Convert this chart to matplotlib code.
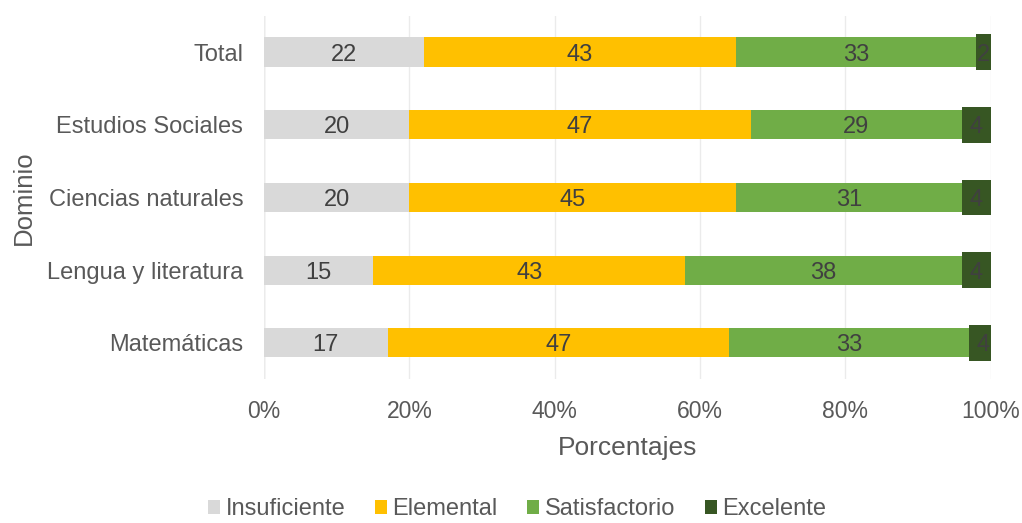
import matplotlib
matplotlib.use("Agg")
import matplotlib.pyplot as plt
from matplotlib.ticker import PercentFormatter

plt.rcParams['font.family'] = ['Liberation Sans', 'DejaVu Sans']

categories = ["Matemáticas", "Lengua y literatura", "Ciencias naturales",
              "Estudios Sociales", "Total"]
insuficiente = [17, 15, 20, 20, 22]
elemental = [47, 43, 45, 47, 43]
satisfactorio = [33, 38, 31, 29, 33]
excelente = [4, 4, 4, 4, 2]

series = [
    ("Insuficiente", insuficiente, "#D9D9D9"),
    ("Elemental", elemental, "#FFC000"),
    ("Satisfactorio", satisfactorio, "#70AD47"),
    ("Excelente", excelente, "#375623"),
]

fig = plt.figure(figsize=(10.22, 5.23), dpi=100)
ax = fig.add_axes([264 / 1022, 0.275, (990.7 - 264) / 1022, 0.695])

y = list(range(len(categories)))
left = [0] * len(categories)
for name, vals, color in series:
    # the last series sits on its own, slightly thicker bars
    h = 0.49 if name == "Excelente" else 0.40
    bars = ax.barh(y, vals, left=left, height=h, color=color,
                   linewidth=0, label=name, zorder=3)
    for bar, v in zip(bars, vals):
        ax.text(bar.get_x() + bar.get_width() / 2,
                bar.get_y() + bar.get_height() / 2, f"{v}",
                ha="center", va="center_baseline", fontsize=17,
                color="#404040", zorder=4)
    left = [l + v for l, v in zip(left, vals)]

ax.set_xlim(0, 100)
ax.set_ylim(-0.5, len(categories) - 0.5)
ax.set_xticks(range(0, 101, 20))
ax.xaxis.set_major_formatter(PercentFormatter(decimals=0))
ax.set_yticks(y)
ax.set_yticklabels(categories, fontsize=17)
ax.tick_params(axis="both", length=0, labelcolor="#595959")
ax.tick_params(axis="x", labelsize=16.5, pad=15)
ax.tick_params(axis="y", pad=15)
ax.grid(axis="x", color="#EBEBEB", linewidth=1, zorder=0)
for s in ax.spines.values():
    s.set_visible(False)
ax.axvline(0, color="#D9D9D9", linewidth=1, zorder=1)

ax.set_xlabel("Porcentajes", fontsize=19, color="#595959", labelpad=9)
ax.set_ylabel("Dominio", fontsize=18.5, color="#595959", labelpad=8)

handles, labels = ax.get_legend_handles_labels()
leg = fig.legend(handles, labels, loc="center", bbox_to_anchor=(0.506, 0.026),
                 ncol=4, frameon=False, fontsize=17, handlelength=0.5,
                 handleheight=0.5, handletextpad=0.25, columnspacing=1.25,
                 borderaxespad=0)
for t in leg.get_texts():
    t.set_color("#595959")

fig.savefig("out.png", dpi=100)
